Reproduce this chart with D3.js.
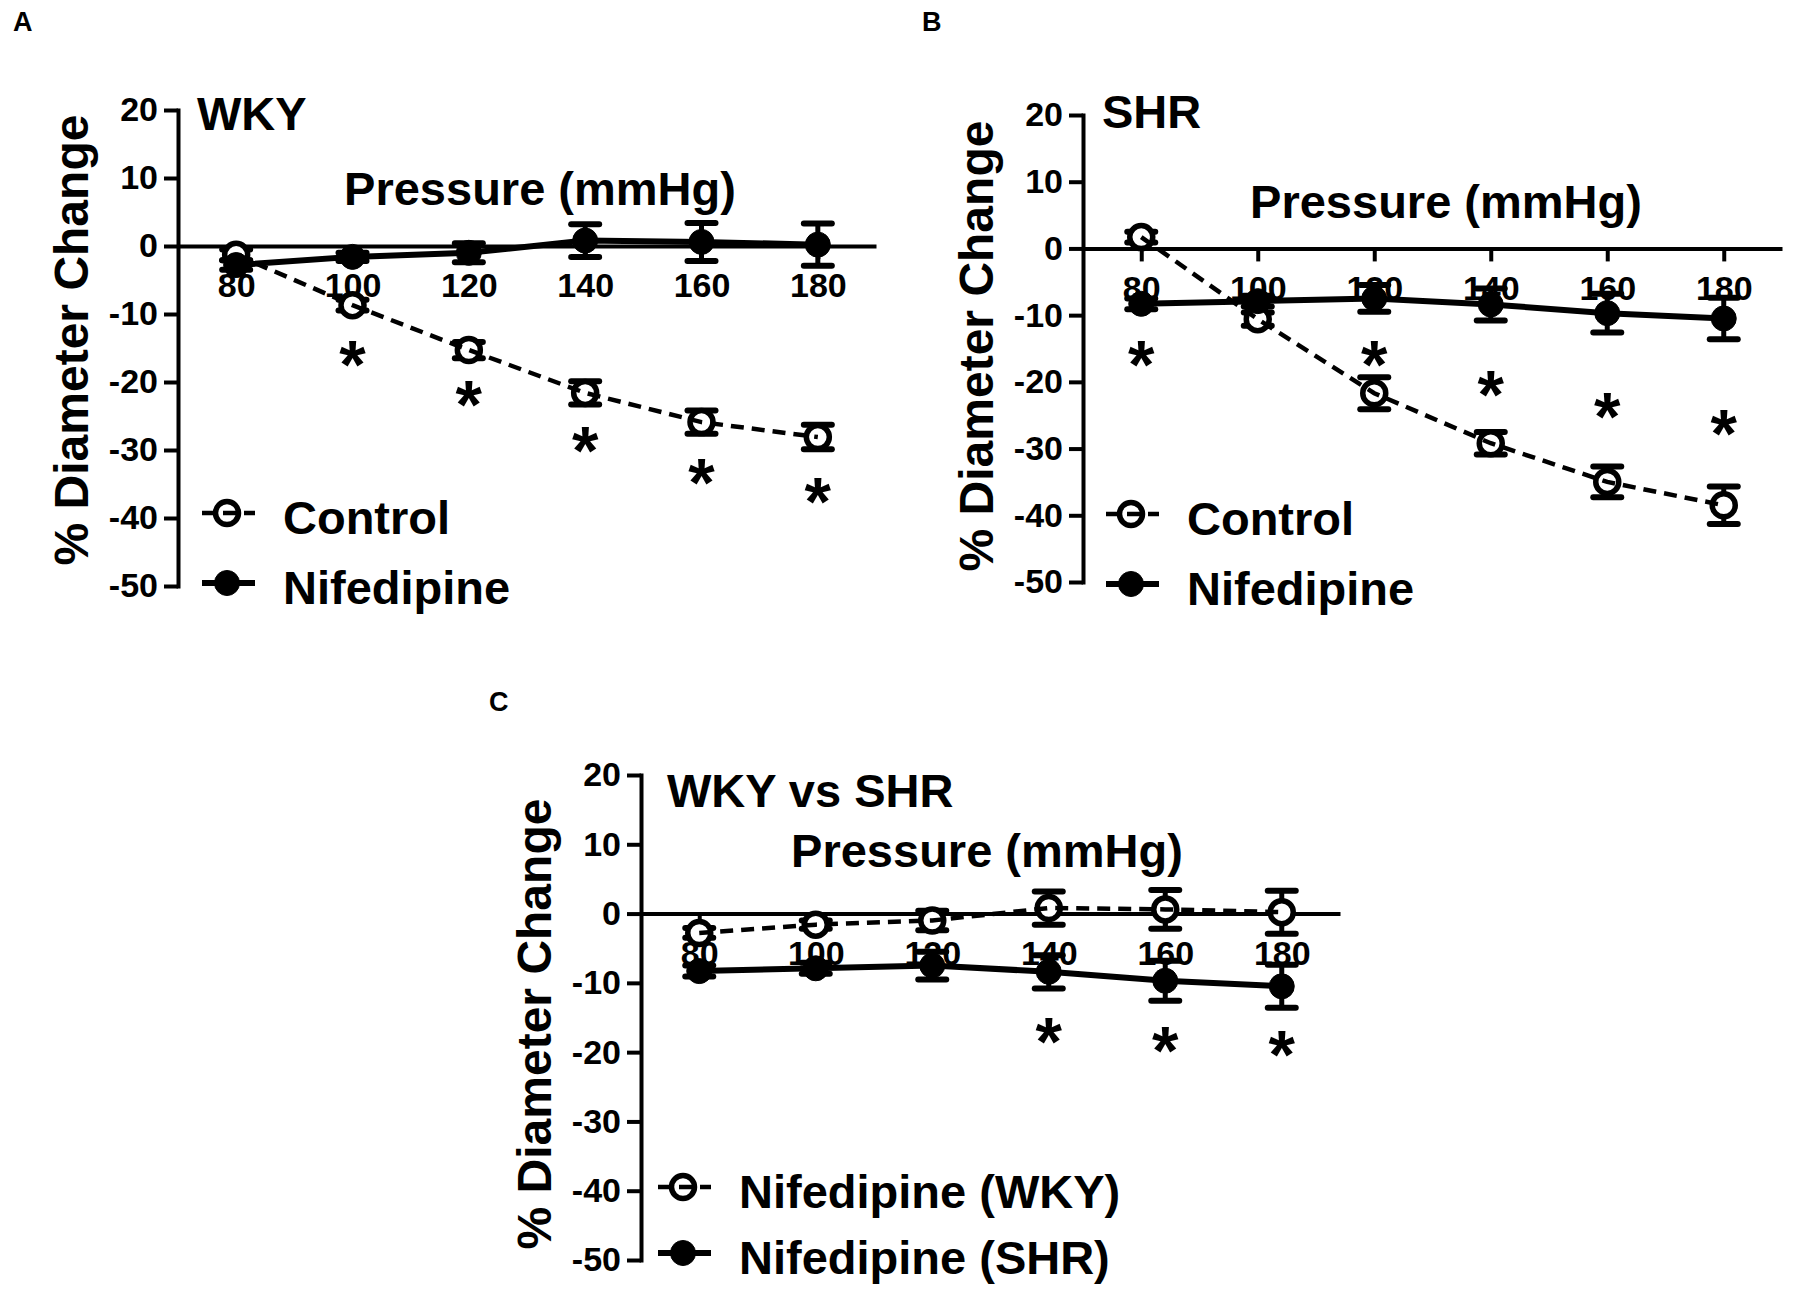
<!DOCTYPE html>
<html>
<head>
<meta charset="utf-8">
<script src="https://cdn.jsdelivr.net/npm/d3@7"></script>
<style>
  body { margin: 0; background: #fff; }
  text { font-family: "Liberation Sans", Arial, Helvetica, sans-serif; font-weight: bold; fill: #000; }
</style>
</head>
<body>
<script>
const pressures = [80, 100, 120, 140, 160, 180];
const yTicks = [20, 10, 0, -10, -20, -30, -40, -50];

const wkyControl    = [-1.3, -8.7, -15.3, -21.6, -25.9, -28.1];
const wkyControlSem = [0.8, 0.8, 1.2, 1.7, 1.7, 1.8];
const wkyNif        = [-2.8, -1.6, -1.0, 0.8, 0.6, 0.2];
const wkyNifSem     = [0.7, 0.6, 1.4, 2.4, 2.8, 3.1];
const shrControl    = [1.7, -10.6, -21.7, -29.2, -35.0, -38.5];
const shrControlSem = [0.8, 1.0, 2.4, 1.7, 2.3, 2.8];
const shrNif        = [-8.3, -7.9, -7.5, -8.4, -9.7, -10.5];
const shrNifSem     = [0.8, 0.8, 2.0, 2.4, 2.9, 3.1];

// height of each asterisk in % units, null = none
const starsA = [null, -14.9, -20.7, -27.5, -32.2, -35.1];
const starsB = [-14.8, null, -14.8, -19.3, -22.6, -25.1];
const starsC = [null, null, null, -16.0, -17.2, -17.9];

const panels = [
  { letter: "A", letterX: 13, letterY: 31,
    left: 178, right: 876, top: 110, bottom: 586,
    title: "WKY", titleX: 197, titleY: 130,
    pressX: 540, pressY: 205, ylabX: 88, ylabY: 340,
    legX: 227, legTextX: 283, legY: [513, 583],
    series: [
      { name: "Control", v: wkyControl, e: wkyControlSem, open: true },
      { name: "Nifedipine", v: wkyNif, e: wkyNifSem, open: false }],
    stars: starsA },
  { letter: "B", letterX: 922, letterY: 31,
    left: 1083, right: 1782, top: 115, bottom: 582,
    title: "SHR", titleX: 1102, titleY: 128,
    pressX: 1446, pressY: 218, ylabX: 993, ylabY: 346,
    legX: 1131, legTextX: 1187, legY: [514, 584],
    series: [
      { name: "Control", v: shrControl, e: shrControlSem, open: true },
      { name: "Nifedipine", v: shrNif, e: shrNifSem, open: false }],
    stars: starsB },
  { letter: "C", letterX: 489, letterY: 711,
    left: 641, right: 1340, top: 775, bottom: 1260,
    title: "WKY vs SHR", titleX: 667, titleY: 807,
    pressX: 987, pressY: 867, ylabX: 551, ylabY: 1024,
    legX: 683, legTextX: 739, legY: [1187, 1253],
    series: [
      { name: "Nifedipine (WKY)", v: wkyNif, e: wkyNifSem, open: true },
      { name: "Nifedipine (SHR)", v: shrNif, e: shrNifSem, open: false }],
    stars: starsC }
];

const svg = d3.select("body").append("svg")
  .attr("width", 1796)
  .attr("height", 1293);

const r = 11.5;
const capW = 14;

panels.forEach(p => {
  const g = svg.append("g");
  const x = d3.scaleLinear().domain([70, 190]).range([p.left, p.right]);
  const y = d3.scaleLinear().domain([-50, 20]).range([p.bottom, p.top]);

  g.append("text").attr("x", p.letterX).attr("y", p.letterY)
    .style("font-size", "27px").text(p.letter);

  // y axis
  const yAx = g.append("g")
    .attr("transform", `translate(${p.left},0)`)
    .call(d3.axisLeft(y).tickValues(yTicks).tickFormat(d => String(d))
      .tickSize(14).tickPadding(6).tickSizeOuter(0));
  // x axis at zero
  const xAx = g.append("g")
    .attr("transform", `translate(0,${y(0)})`)
    .call(d3.axisBottom(x).tickValues(pressures).tickFormat(d => String(d))
      .tickSize(13).tickPadding(14).tickSizeOuter(0));
  [yAx, xAx].forEach(a => {
    a.selectAll("path, line").attr("stroke", "#000").attr("stroke-width", 4);
    a.selectAll("text").style("font-size", "34px").attr("fill", "#000");
  });
  yAx.select(".domain").attr("stroke-linecap", "square");

  g.append("text")
    .attr("transform", `translate(${p.ylabX},${p.ylabY}) rotate(-90)`)
    .attr("text-anchor", "middle")
    .style("font-size", "48px")
    .text("% Diameter Change");

  g.append("text").attr("x", p.titleX).attr("y", p.titleY)
    .style("font-size", "47px").text(p.title);

  g.append("text").attr("x", p.pressX).attr("y", p.pressY)
    .attr("text-anchor", "middle")
    .style("font-size", "47px").text("Pressure (mmHg)");

  const line = d3.line().x((d, i) => x(pressures[i])).y(d => y(d));

  p.series.forEach(s => {
    const sg = g.append("g");
    const pts = s.v.map((v, i) => ({ p: pressures[i], v: v, e: s.e[i] }));

    // error bars
    sg.selectAll(".eb").data(pts).enter().append("line")
      .attr("x1", d => x(d.p)).attr("x2", d => x(d.p))
      .attr("y1", d => y(d.v - d.e)).attr("y2", d => y(d.v + d.e))
      .attr("stroke", "#000").attr("stroke-width", 5);
    sg.selectAll(".capHi").data(pts).enter().append("line")
      .attr("x1", d => x(d.p) - capW).attr("x2", d => x(d.p) + capW)
      .attr("y1", d => y(d.v + d.e)).attr("y2", d => y(d.v + d.e))
      .attr("stroke", "#000").attr("stroke-width", 6).attr("stroke-linecap", "round");
    sg.selectAll(".capLo").data(pts).enter().append("line")
      .attr("x1", d => x(d.p) - capW).attr("x2", d => x(d.p) + capW)
      .attr("y1", d => y(d.v - d.e)).attr("y2", d => y(d.v - d.e))
      .attr("stroke", "#000").attr("stroke-width", 6).attr("stroke-linecap", "round");

    sg.selectAll("circle").data(pts).enter().append("circle")
      .attr("cx", d => x(d.p)).attr("cy", d => y(d.v))
      .attr("r", s.open ? r : 12.5)
      .attr("fill", s.open ? "#fff" : "#000")
      .attr("stroke", "#000").attr("stroke-width", s.open ? 5.5 : 1);

    sg.append("path").datum(s.v)
      .attr("d", line)
      .attr("fill", "none").attr("stroke", "#000")
      .attr("stroke-width", s.open ? 4.5 : 6)
      .attr("stroke-dasharray", s.open ? "13,8" : null);
  });

  // asterisks
  g.selectAll(".star").data(p.stars.map((v, i) => ({ p: pressures[i], v: v })).filter(d => d.v !== null))
    .enter().append("text")
    .attr("x", d => x(d.p)).attr("y", d => y(d.v))
    .attr("dy", "0.6em")
    .attr("text-anchor", "middle")
    .style("font-size", "68px")
    .text("*");

  // legend
  p.series.forEach((s, i) => {
    const ly = p.legY[i];
    g.append("line")
      .attr("x1", p.legX - 25).attr("x2", p.legX + 28)
      .attr("y1", ly).attr("y2", ly)
      .attr("stroke", "#000").attr("stroke-width", s.open ? 4.5 : 6)
      .attr("stroke-dasharray", s.open ? "13,8" : null);
    g.append("circle")
      .attr("cx", p.legX).attr("cy", ly)
      .attr("r", s.open ? r : 12.5)
      .attr("fill", s.open ? "none" : "#000")
      .attr("stroke", "#000").attr("stroke-width", s.open ? 5.5 : 1);
    g.append("text").attr("x", p.legTextX).attr("y", ly + 21)
      .style("font-size", "47px").text(s.name);
  });
});
</script>
</body>
</html>
